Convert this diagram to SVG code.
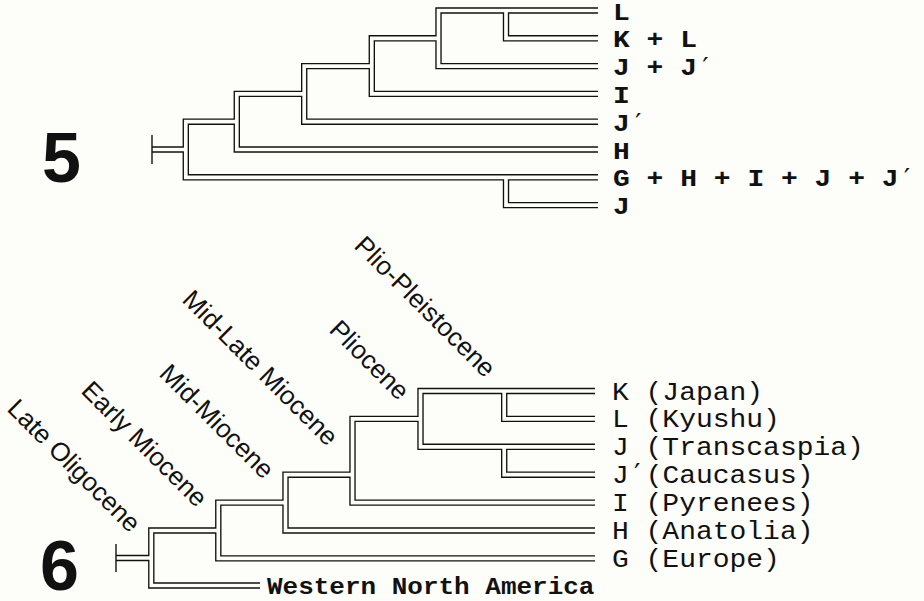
<svg xmlns="http://www.w3.org/2000/svg" xmlns:xlink="http://www.w3.org/1999/xlink" width="924" height="601" viewBox="0 0 924 601">
  <style>
    .bg { fill: #fdfdf9; }
    .wire { fill: none; stroke-linejoin: miter; stroke-linecap: butt; }
    .wire-outer { stroke: #111; stroke-width: 6.4; }
    .wire-inner { stroke: #fdfdf9; stroke-width: 3.7; }
    .tick { stroke: #111; stroke-width: 1.4; fill: none; }
    .taxon-bold { font-family: "Liberation Mono", "DejaVu Sans Mono", monospace; font-size: 28px; font-weight: bold; fill: #111; }
    .taxon { font-family: "Liberation Mono", "DejaVu Sans Mono", monospace; font-size: 28px; fill: #111; }
    .prime { font-family: "DejaVu Sans Mono", "Liberation Mono", monospace; font-weight: normal; }
    .outgroup { font-family: "Liberation Mono", "DejaVu Sans Mono", monospace; font-size: 26px; font-weight: bold; fill: #111; }
    .epoch { font-family: "Liberation Sans", Arial, sans-serif; font-size: 26px; fill: #111; }
    .fig { font-family: "Liberation Sans", Arial, sans-serif; font-size: 70px; font-weight: bold; fill: #111; }
  </style>
  <defs>
    <!-- cladogram 5: brackets, one subpath per internal node -->
    <path id="tree5" class="wire" d="
      M152,149.5 H185.8
      M236.8,121.7 H185.8 V177.3 H598
      M304.2,93.9 H236.8 V149.5 H598
      M371.8,66.1 H304.2 V121.7 H598
      M438.5,38.3 H371.8 V93.9 H598
      M598,10.5 H438.5 V66.1 H598
      M506,10.5 V38.3 H598
      M506,177.3 V205.1 H598"/>
    <!-- cladogram 6 -->
    <path id="tree6" class="wire" d="
      M116,558 H151.3
      M218.3,530.5 H151.3 V585.5 H260
      M285.5,502.6 H218.3 V558.4 H595
      M352.5,474.7 H285.5 V530.5 H595
      M420.5,418.9 H352.5 V502.6 H595
      M595,391 H420.5 V446.8 H595
      M504.2,391 V418.9 H595
      M504.2,446.8 V474.7 H595"/>
  </defs>

  <rect class="bg" x="0" y="0" width="924" height="601"/>

  <!-- branches drawn as double lines: dark outline, then light core -->
  <g id="connectors">
    <use xlink:href="#tree5" class="wire-outer"/>
    <use xlink:href="#tree6" class="wire-outer"/>
    <use xlink:href="#tree5" class="wire-inner"/>
    <use xlink:href="#tree6" class="wire-inner"/>
    <line class="tick" x1="152" y1="135" x2="152" y2="164"/>
    <line class="tick" x1="116" y1="544" x2="116" y2="572"/>
  </g>

  <!-- figure numbers -->
  <text id="fig5" class="fig" x="42" y="182">5</text>
  <text id="fig6" class="fig" x="40" y="590">6</text>

  <!-- terminal taxa, cladogram 5 (glyphs slightly flattened, typewriter proportions) -->
  <g id="t5-L"><text class="taxon-bold" transform="translate(613,19.5) scale(1,0.86)">L</text></g>
  <g id="t5-KL"><text class="taxon-bold" transform="translate(613,47.3) scale(1,0.86)">K + L</text></g>
  <g id="t5-JJp"><text class="taxon-bold" transform="translate(613,75.1) scale(1,0.86)">J + J<tspan class="prime">′</tspan></text></g>
  <g id="t5-I"><text class="taxon-bold" transform="translate(613,102.9) scale(1,0.86)">I</text></g>
  <g id="t5-Jp"><text class="taxon-bold" transform="translate(613,130.7) scale(1,0.86)">J<tspan class="prime">′</tspan></text></g>
  <g id="t5-H"><text class="taxon-bold" transform="translate(613,158.5) scale(1,0.86)">H</text></g>
  <g id="t5-GHIJJp"><text class="taxon-bold" transform="translate(613,186.3) scale(1,0.86)">G + H + I + J + J<tspan class="prime">′</tspan></text></g>
  <g id="t5-J"><text class="taxon-bold" transform="translate(613,214.1) scale(1,0.86)">J</text></g>

  <!-- terminal taxa, cladogram 6 -->
  <g id="t6-K"><text class="taxon" transform="translate(612,399.5) scale(1,0.93)">K (Japan)</text></g>
  <g id="t6-L"><text class="taxon" transform="translate(612,427.4) scale(1,0.93)">L (Kyushu)</text></g>
  <g id="t6-J"><text class="taxon" transform="translate(612,455.3) scale(1,0.93)">J (Transcaspia)</text></g>
  <g id="t6-Jp"><text class="taxon" transform="translate(612,483.2) scale(1,0.93)">J<tspan class="prime">′</tspan>(Caucasus)</text></g>
  <g id="t6-I"><text class="taxon" transform="translate(612,511.1) scale(1,0.93)">I (Pyrenees)</text></g>
  <g id="t6-H"><text class="taxon" transform="translate(612,539) scale(1,0.93)">H (Anatolia)</text></g>
  <g id="t6-G"><text class="taxon" transform="translate(612,566.9) scale(1,0.93)">G (Europe)</text></g>
  <g id="t6-WNA"><text class="outgroup" transform="translate(267,594) scale(1,0.9)">Western North America</text></g>

  <!-- epoch labels along the nodes of cladogram 6 -->
  <g id="ep-late-oligocene"><text class="epoch" transform="translate(6,410) rotate(45)">Late Oligocene</text></g>
  <g id="ep-early-miocene"><text class="epoch" transform="translate(80,392) rotate(45)">Early Miocene</text></g>
  <g id="ep-mid-miocene"><text class="epoch" transform="translate(158,375) rotate(45)">Mid-Miocene</text></g>
  <g id="ep-mid-late-miocene"><text class="epoch" transform="translate(181,301) rotate(45)">Mid-Late Miocene</text></g>
  <g id="ep-pliocene"><text class="epoch" transform="translate(328,331) rotate(45)">Pliocene</text></g>
  <g id="ep-plio-pleistocene"><text class="epoch" transform="translate(353,247) rotate(45)">Plio-Pleistocene</text></g>
</svg>
